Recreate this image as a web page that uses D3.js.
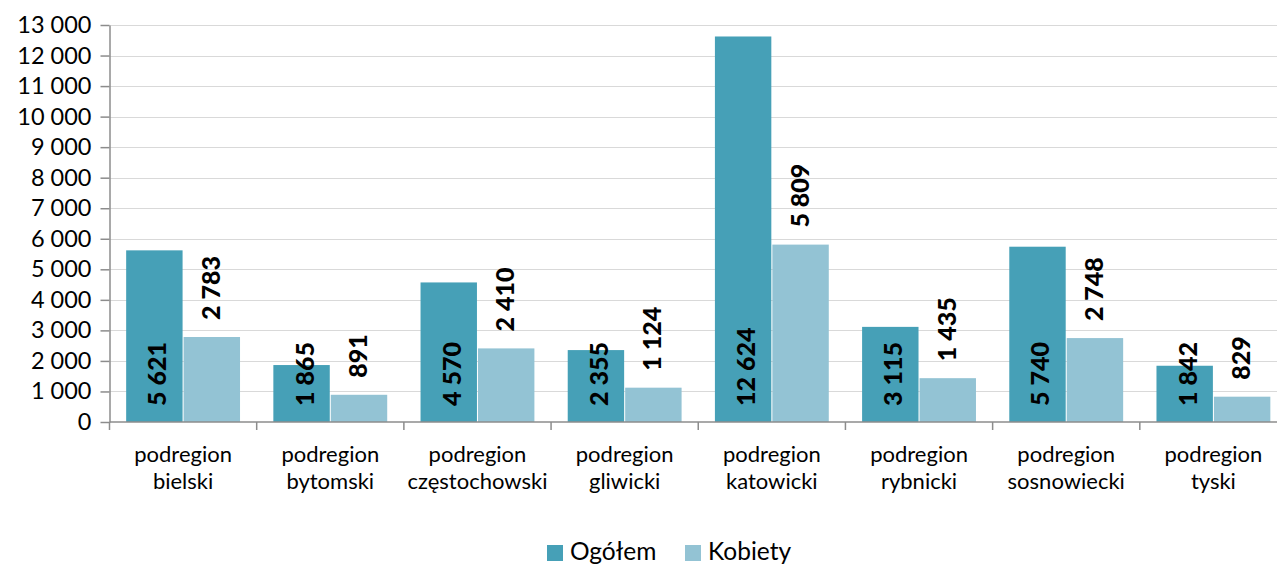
<!DOCTYPE html>
<html><head><meta charset="utf-8">
<script src="https://cdn.jsdelivr.net/npm/d3@7/dist/d3.min.js"></script>
<style>body{margin:0;background:#fff}svg{display:block}</style>
</head><body><svg id="c" width="1277" height="564"></svg>
<script>
const categories = ["podregion bielski","podregion bytomski","podregion częstochowski","podregion gliwicki","podregion katowicki","podregion rybnicki","podregion sosnowiecki","podregion tyski"];
const ogolem = [5621,1865,4570,2355,12624,3115,5740,1842];
const kobiety = [2783,891,2410,1124,5809,1435,2748,829];
const seriesNames = ["Ogółem","Kobiety"];
const yTicks = [0,1000,2000,3000,4000,5000,6000,7000,8000,9000,10000,11000,12000,13000];
const colors = ["#46A0B7","#93C3D4"];
const font = "Lato, 'Open Sans', sans-serif";

(function(){
const svg = d3.select("#c");
const mLeft = 109.5, mRight = 1287, mTop = 25, mBottom = 422;
const x = d3.scaleBand().domain(categories).range([mLeft, mRight]).paddingInner(0).paddingOuter(0);
const y = d3.scaleLinear().domain([0,13000]).range([mBottom, mTop]);
const fmt = v => d3.format(",")(v).replace(/,/g, " ");

// gridlines
svg.append("g").selectAll("line").data(yTicks.filter(d=>d>0)).join("line")
  .attr("x1", mLeft).attr("x2", mRight).attr("y1", d=>Math.round(y(d))+0.5).attr("y2", d=>Math.round(y(d))+0.5)
  .attr("stroke", "#d9d9d9").attr("stroke-width", 1.2);

// y axis
const ya = svg.append("g").attr("transform", `translate(${mLeft},0)`)
  .call(d3.axisLeft(y).tickValues(yTicks).tickSize(9).tickSizeOuter(0).tickFormat(fmt).tickPadding(9));
ya.select(".domain").attr("stroke", "#8c8c8c").attr("stroke-width", 1.5);
ya.selectAll(".tick line").attr("stroke", "#8c8c8c").attr("stroke-width", 1.5);
ya.selectAll("text").attr("font-family", font).attr("font-size", 23.5).attr("fill", "#000");

// bars
const inner = d3.scaleBand().domain([0,1]).range([0, x.bandwidth()]).paddingInner(0.018).paddingOuter(0.29);
const series = [ogolem, kobiety];
series.forEach((vals, si) => {
  svg.append("g").selectAll("rect").data(vals).join("rect")
    .attr("x", (d,i)=>x(categories[i]) + inner(si))
    .attr("width", inner.bandwidth())
    .attr("y", d=>y(d)).attr("height", d=>mBottom - y(d))
    .attr("fill", colors[si]);
});

// x axis
const xa = svg.append("g").attr("transform", `translate(0,${mBottom})`);
xa.append("line").attr("x1", mLeft).attr("x2", mRight).attr("y1", 0).attr("y2", 0).attr("stroke", "#8c8c8c").attr("stroke-width", 1.5);
const bounds = categories.map(c => x(c)).concat([x(categories[categories.length-1]) + x.bandwidth()]);
xa.selectAll("line.t").data(bounds).join("line").attr("class","t")
  .attr("x1", d=>d).attr("x2", d=>d).attr("y1", 0).attr("y2", 8).attr("stroke", "#8c8c8c").attr("stroke-width", 1.5);
const cl = xa.selectAll("text.c").data(categories).join("text").attr("class","c")
  .attr("x", d=>x(d)+x.bandwidth()/2).attr("text-anchor","middle")
  .attr("font-family", font).attr("font-size", 22).attr("fill", "#000");
cl.each(function(d){
  const parts = d.split(" ");
  const t = d3.select(this);
  t.append("tspan").attr("x", x(d)+x.bandwidth()/2).attr("y", 40).text(parts[0]);
  t.append("tspan").attr("x", x(d)+x.bandwidth()/2).attr("y", 67).text(parts.slice(1).join(" "));
});

// data labels
const lab = svg.append("g").attr("font-family", font).attr("font-weight", "900").attr("font-size", 25).attr("fill", "#000");
ogolem.forEach((v,i)=>{
  const cx = x(categories[i]) + inner(0) + inner.bandwidth()/2 + 2;
  const sy = mBottom - 16;
  lab.append("text").attr("transform", `translate(${cx},${sy}) rotate(-90)`)
    .attr("dominant-baseline","central").attr("text-anchor","start").text(fmt(v));
});
kobiety.forEach((v,i)=>{
  const cx = x(categories[i]) + inner(1) + inner.bandwidth()/2 - 2;
  const sy = y(v) - 17;
  lab.append("text").attr("transform", `translate(${cx},${sy}) rotate(-90)`)
    .attr("dominant-baseline","central").attr("text-anchor","start").text(fmt(v));
});

// legend
const lg = svg.append("g").attr("font-family", font).attr("font-size", 24.5);
const legendX = [547, 685];
seriesNames.forEach((n,i)=>{
  lg.append("rect").attr("x", legendX[i]).attr("y", 545).attr("width", 16).attr("height", 16).attr("fill", colors[i]);
  lg.append("text").attr("x", legendX[i]+23).attr("y", 560).attr("fill","#000").text(n);
});
})();
</script></body></html>
